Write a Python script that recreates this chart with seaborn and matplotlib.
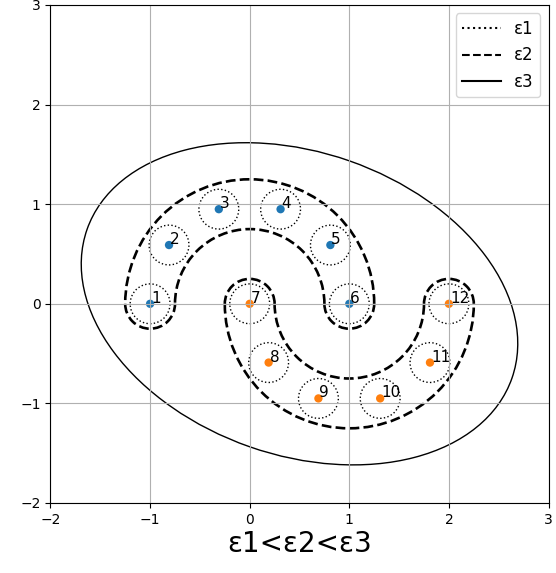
import matplotlib

matplotlib.use("Agg")
import matplotlib.pyplot as plt
import pandas as pd
import seaborn as sns
from matplotlib.lines import Line2D
from matplotlib.patches import Arc, Circle, Ellipse

# --- data ---------------------------------------------------------------- #
point_ids = [1, 2, 3, 4, 5, 6, 7, 8, 9, 10, 11, 12]
point_x = [-1.0, -0.81, -0.31, 0.31, 0.81, 1.0, 0.0, 0.19, 0.69, 1.31, 1.81, 2.0]
point_y = [0.0, 0.59, 0.95, 0.95, 0.59, 0.0, 0.0, -0.59, -0.95, -0.95, -0.59, 0.0]
moon = ["upper"] * 6 + ["lower"] * 6

eps1_radius = 0.2
# dashed (eps2) band: arc centres, outer/inner radius, cap radius
band_centers = [(0.0, 0.0), (1.0, 0.0)]
band_outer = 1.25
band_inner = 0.75
band_cap = 0.25
band_spans = [(0, 180), (180, 360)]
band_caps = [[(-1.0, 0.0), (1.0, 0.0)], [(0.0, 0.0), (2.0, 0.0)]]
cap_spans = [(180, 360), (0, 180)]

# solid (eps3) ellipse
ell_center = (0.5, 0.0)
ell_width = 4.52
ell_height = 3.04
ell_angle = -19.3

legend_labels = ["ε1", "ε2", "ε3"]
ticks = [-2, -1, 0, 1, 2, 3]

df = pd.DataFrame({"id": point_ids, "x": point_x, "y": point_y, "moon": moon})

fig = plt.figure(figsize=(5.56, 5.73), dpi=100)
ax = fig.add_axes([50 / 556, 70 / 573, 499 / 556, 498 / 573])

sns.scatterplot(data=df, x="x", y="y", hue="moon", palette=["tab:blue", "tab:orange"],
                s=36, linewidth=0, legend=False, ax=ax, zorder=1)

for _, r in df.iterrows():
    ax.text(r["x"] + 0.01, r["y"] + 0.01, str(int(r["id"])), fontsize=11)
    ax.add_patch(Circle((r["x"], r["y"]), eps1_radius, fill=False, ls=":", lw=1.0, color="k"))

for c, span, caps, cspan in zip(band_centers, band_spans, band_caps, cap_spans):
    for rad in (band_outer, band_inner):
        ax.add_patch(Arc(c, 2 * rad, 2 * rad, theta1=span[0], theta2=span[1],
                         ls="--", lw=1.9, color="k"))
    for cc in caps:
        ax.add_patch(Arc(cc, 2 * band_cap, 2 * band_cap, theta1=cspan[0], theta2=cspan[1],
                         ls="--", lw=1.9, color="k"))

ax.add_patch(Ellipse(ell_center, ell_width, ell_height, angle=ell_angle,
                     fill=False, lw=1.0, color="k"))

ax.set_xlim(-2, 3)
ax.set_ylim(-2, 3)
ax.set_xticks(ticks)
ax.set_yticks(ticks)
ax.set_aspect("equal")
ax.grid(True)
ax.set_ylabel("")
ax.set_xlabel("ε1<ε2<ε3", fontsize=20, labelpad=2)

handles = [
    Line2D([], [], color="k", ls=":", lw=1.5),
    Line2D([], [], color="k", ls="--", lw=1.5),
    Line2D([], [], color="k", ls="-", lw=1.5),
]
ax.legend(handles, legend_labels, loc="upper right", fontsize=12, handlelength=2.3)

fig.savefig("out.png", dpi=100)
